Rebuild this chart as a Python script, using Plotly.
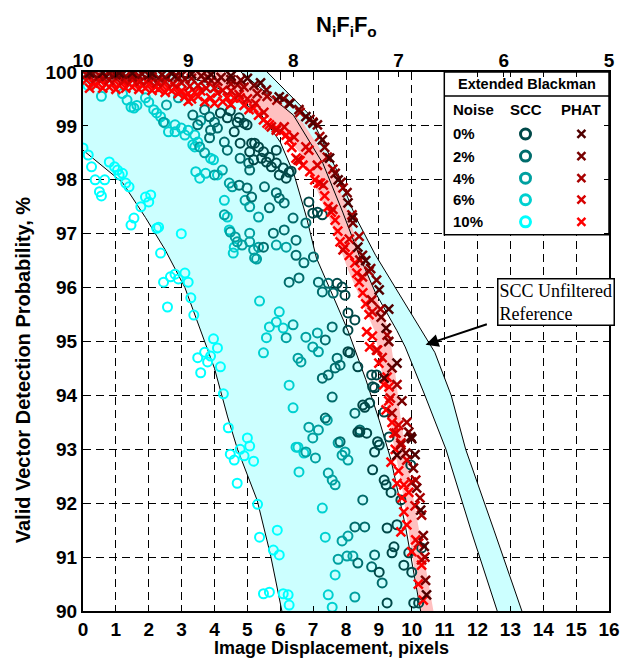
import plotly.graph_objects as go

# ---------------- data ----------------
# band boundary curves (x displacement, probability %)
C1 = [(0, 98.55), (0.5, 98.3), (1.2, 97.95), (1.9, 97.3), (2.5, 96.7), (3.1, 96.0), (3.4, 95.5),
      (4.0, 94.5), (4.4, 93.6), (4.7, 93.0), (5.3, 92.05), (5.7, 91.05), (6.05, 90)]
C2 = [(2.6, 100), (3.8, 99.8), (4.7, 99.5), (5.43, 99.2), (6.0, 98.7), (6.42, 98.1), (6.8, 97.3),
      (7.1, 96.55), (7.6, 95.85), (8.06, 95.2), (8.6, 94.3), (9.01, 93.54), (9.37, 92.8), (9.8, 91.6), (10.27, 90)]
RL = [(4.8, 100), (6.4, 99.2), (7.3, 98.3), (7.9, 97.4), (8.4, 96.6), (8.9, 95.9), (9.55, 95.2), (9.8, 94.9),
      (10.4, 94.0), (11.04, 93.0), (11.8, 91.5), (12.6, 90)]
RR = [(5.6, 100), (6.9, 99.2), (7.7, 98.2), (8.3, 97.3), (8.9, 96.6), (9.5, 96.0), (10.1, 95.4), (10.7, 94.8),
      (11.2, 94.0), (11.64, 93.0), (12.5, 91.5), (13.35, 90)]
PL = [(3.0, 100), (4.6, 99.6), (5.6, 99.15), (6.6, 98.5), (7.2, 97.7), (7.55, 97.2), (8.06, 96.33), (8.5, 95.7),
      (8.87, 95.2), (9.1, 94.4), (9.31, 93.54), (9.7, 92.3), (10.27, 90)]
PR = [(4.2, 100), (5.7, 99.6), (6.7, 99.05), (7.4, 98.4), (7.95, 97.6), (8.3, 96.9), (8.63, 96.33), (9.0, 95.7),
      (9.31, 95.2), (9.5, 94.4), (9.67, 93.54), (10.06, 92.06), (10.66, 90)]

scc10 = [(0.0, 98.59), (0.16, 98.46), (0.26, 98.24), (0.37, 98.0), (0.66, 98.0), (0.5, 97.78), (0.56, 97.7),
         (0.8, 98.33), (0.96, 98.24), (1.05, 98.18), (1.1, 98.09), (1.2, 98.12), (1.3, 97.94), (1.4, 97.87),
         (1.46, 97.16), (1.55, 97.29), (1.76, 97.5), (1.9, 97.68), (2.06, 97.72), (2.0, 97.59), (2.3, 97.12),
         (2.24, 97.1), (2.99, 97.0), (2.36, 96.64), (2.45, 96.1), (2.66, 96.2), (2.8, 96.25), (2.9, 96.16),
         (3.1, 96.27), (3.2, 96.1), (3.28, 95.81), (2.57, 95.64), (3.37, 95.49), (3.97, 95.05), (4.09, 94.88),
         (3.7, 94.8), (3.49, 94.7), (3.79, 94.62), (3.88, 94.73), (3.58, 94.42), (4.18, 94.53), (4.27, 94.03),
         (4.42, 93.4), (5.0, 93.21), (4.78, 93.0), (5.07, 93.06), (4.48, 92.91), (4.6, 92.8), (4.9, 92.88),
         (5.19, 92.78), (4.69, 92.37), (5.31, 91.98), (5.91, 91.5), (5.37, 91.37), (5.79, 91.13), (5.97, 91.04),
         (5.49, 90.32), (5.67, 90.35), (6.09, 90.32), (6.24, 90.3), (6.27, 90.11), (0.05, 99.95), (0.3, 99.85),
         (0.6, 99.9), (0.15, 99.75)]
scc6 = [(0.56, 99.55), (1.2, 99.6), (1.34, 99.48), (1.46, 99.35), (1.55, 99.33), (1.64, 99.38), (1.9, 99.52),
        (2.0, 99.44), (2.15, 99.3), (2.24, 99.24), (2.36, 99.17), (2.5, 99.05), (2.6, 98.89), (2.8, 99.02),
        (2.8, 98.89), (2.99, 98.96), (3.2, 98.92), (3.1, 98.83), (3.4, 98.83), (3.34, 98.65), (3.49, 98.7),
        (3.4, 98.61), (3.43, 98.15), (3.55, 98.03), (3.73, 98.12), (3.88, 98.4), (3.97, 98.37), (4.09, 98.09),
        (4.3, 97.62), (4.39, 97.31), (4.45, 97.07), (4.6, 96.75), (4.57, 96.64), (5.37, 95.75), (5.67, 95.27),
        (5.49, 94.79), (5.58, 95.07), (5.97, 95.55), (5.88, 95.36), (6.09, 95.25), (6.27, 94.19), (6.39, 93.77),
        (6.54, 93.04), (6.72, 92.93), (6.57, 92.58), (7.28, 91.91), (7.37, 91.37), (7.46, 90.3), (7.58, 90.07),
        (7.67, 90.67), (6.48, 93.04)]
scc4 = [(2.54, 99.39), (2.9, 99.52), (2.45, 99.07), (3.58, 99.1), (3.55, 98.61), (3.7, 98.5), (4.24, 98.18),
        (4.0, 98.09), (4.45, 97.94), (4.54, 97.87), (4.93, 97.62), (5.07, 97.5), (5.34, 97.31), (4.3, 97.35),
        (4.48, 97.03), (4.63, 96.94), (5.07, 96.85), (5.34, 96.75), (5.88, 96.79), (6.18, 96.75), (5.22, 96.55),
        (5.28, 96.53), (6.39, 95.31), (6.18, 95.07), (6.78, 95.08), (7.13, 95.16), (6.99, 94.9), (7.16, 94.81),
        (6.54, 94.69), (6.63, 94.62), (6.87, 93.41), (7.16, 93.36), (6.99, 93.21), (6.78, 92.95), (7.07, 92.84),
        (7.76, 93.12), (7.97, 92.95), (7.88, 92.89), (8.06, 92.8), (7.46, 92.56), (7.58, 92.43), (7.67, 92.34),
        (7.88, 91.3), (8.06, 91.39), (7.76, 90.96), (8.03, 91.02), (8.21, 91.02), (8.27, 90.26), (7.43, 93.54),
        (5.07, 97.01), (4.84, 96.79), (4.69, 96.85), (5.19, 96.7)]
scc2 = [(3.34, 99.2), (3.7, 99.3), (3.85, 99.17), (4.0, 99.07), (3.49, 99.02), (3.88, 98.92), (4.09, 98.96),
        (3.85, 98.78), (4.3, 98.7), (4.39, 98.55), (4.78, 98.4), (5.04, 98.31), (5.07, 98.18), (4.75, 97.9),
        (4.99, 97.85), (5.13, 97.68), (5.52, 97.87), (5.88, 97.76), (5.97, 97.66), (6.12, 97.57), (5.67, 97.48),
        (6.39, 97.29), (6.78, 97.2), (6.12, 97.07), (6.48, 96.88), (5.79, 97.01), (5.49, 96.75), (6.27, 96.1),
        (6.57, 96.18), (6.48, 96.6), (6.72, 96.46), (7.01, 96.57), (7.16, 96.1), (7.46, 96.08), (7.28, 95.92),
        (7.61, 95.9), (7.58, 95.27), (7.37, 95.03), (7.73, 94.69), (7.82, 94.56), (7.67, 94.51), (7.46, 94.38),
        (7.28, 94.32), (7.58, 93.97), (7.37, 93.58), (7.82, 93.14), (8.27, 93.67), (8.42, 93.36), (8.51, 92.06),
        (8.27, 91.56), (8.57, 91.56), (8.36, 90.89), (8.78, 90.82), (9.1, 90.52), (8.87, 91.04)]
scc0 = [(4.18, 99.24), (4.39, 99.15), (4.69, 99.07), (4.99, 99.02), (4.6, 98.89), (5.13, 98.68), (5.34, 98.61),
        (5.49, 98.52), (5.67, 98.42), (5.88, 98.55), (5.58, 98.33), (5.88, 98.31), (5.73, 98.24), (6.27, 98.14),
        (6.18, 98.03), (5.97, 98.09), (6.87, 97.59), (6.99, 97.38), (7.13, 97.4), (7.28, 97.35), (4.78, 98.68),
        (5.07, 98.52), (5.43, 98.4), (5.19, 98.37), (4.48, 99.28), (4.75, 99.15), (4.9, 99.05), (5.22, 98.68),
        (6.09, 98.22), (6.33, 98.16), (7.73, 96.08), (7.88, 96.01), (7.97, 95.86), (8.06, 95.53), (8.27, 95.4),
        (8.06, 95.21), (8.06, 94.81), (8.36, 94.53), (8.78, 94.38), (8.81, 94.16), (8.51, 93.82), (8.72, 93.86),
        (8.42, 93.32), (8.63, 93.3), (8.96, 93.14), (8.12, 94.79), (8.93, 94.38), (8.87, 94.14), (9.16, 93.69),
        (8.57, 93.78), (9.01, 93.08), (9.31, 93.23), (8.36, 93.32), (8.87, 92.95), (9.97, 92.71), (8.81, 92.62),
        (9.16, 92.43), (9.22, 92.34), (9.37, 92.2), (9.67, 92.06), (9.25, 91.54), (9.55, 91.6), (9.46, 91.19),
        (10.3, 91.17), (9.4, 91.08), (9.91, 91.08), (9.76, 90.85), (10.0, 90.72), (10.06, 90.15), (10.21, 90.15),
        (9.25, 90.15), (9.01, 90.72)]

phat10 = [(0.1, 99.85), (0.3, 99.8), (0.5, 99.85), (0.7, 99.78), (0.9, 99.8), (1.1, 99.75), (1.2, 99.82),
          (1.4, 99.78), (1.6, 99.8), (1.8, 99.75), (2.0, 99.78), (2.2, 99.72), (2.4, 99.75), (2.6, 99.7),
          (2.8, 99.72), (3.0, 99.65), (3.2, 99.46), (3.2, 99.6), (3.4, 99.62), (3.58, 99.65), (3.88, 99.52),
          (4.09, 99.61), (4.39, 99.52), (4.6, 99.52), (4.78, 99.52), (5.19, 99.33), (5.34, 99.2), (5.49, 99.11),
          (5.67, 99.02), (5.88, 98.96), (6.18, 98.83), (6.27, 98.74), (6.48, 98.4), (6.69, 98.27), (7.16, 97.94),
          (7.22, 97.94), (7.46, 97.5), (7.67, 97.25), (7.82, 96.85), (7.97, 96.75), (8.27, 96.46), (8.33, 96.27),
          (8.51, 95.9), (8.63, 95.18), (8.72, 94.9), (8.96, 94.84), (9.25, 94.34), (9.31, 94.16), (9.22, 93.73),
          (9.46, 93.3), (9.37, 92.76), (9.55, 92.37), (9.76, 92.34), (9.91, 92.2), (9.76, 91.84), (9.67, 91.47),
          (10.12, 91.32), (10.3, 90.85),
          (0.2, 99.7), (0.4, 99.75), (0.6, 99.7), (0.8, 99.72), (1.0, 99.68), (1.3, 99.7), (1.5, 99.72),
          (1.7, 99.68), (1.9, 99.7), (2.1, 99.66), (2.3, 99.68), (2.5, 99.62), (2.7, 99.65), (2.9, 99.6),
          (3.1, 99.55), (3.3, 99.5), (3.5, 99.55), (3.7, 99.45), (4.0, 99.42), (4.25, 99.45), (4.5, 99.4),
          (4.9, 99.38), (5.05, 99.3), (5.6, 99.05), (6.0, 98.9), (6.35, 98.6), (6.6, 98.35), (6.9, 98.15),
          (7.05, 98.0), (7.35, 97.7), (7.55, 97.4), (7.75, 97.05), (8.1, 96.6), (8.4, 96.1), (8.6, 95.7),
          (8.7, 95.5), (8.8, 95.1), (9.0, 94.6), (9.15, 94.2), (9.3, 93.9), (9.4, 93.5), (9.5, 93.0), (9.6, 92.6),
          (9.7, 92.1), (9.85, 91.6), (10.0, 91.1), (10.2, 90.5), (10.35, 90.2)]
phat6 = [(0.2, 99.92), (0.6, 99.9), (1.0, 99.88), (1.5, 99.86), (2.0, 99.85), (2.5, 99.82), (3.0, 99.8),
         (3.5, 99.75), (4.0, 99.7), (4.5, 99.65), (5.0, 99.5), (5.73, 98.98), (5.88, 98.92), (6.12, 98.98),
         (6.42, 98.79), (6.54, 98.37), (6.78, 98.61), (6.87, 98.55), (7.13, 98.27), (7.31, 97.9), (7.91, 96.7),
         (8.93, 94.84), (9.52, 93.3), (9.67, 93.12), (10.0, 92.39), (10.21, 91.26),
         (0.4, 99.88), (0.8, 99.85), (1.25, 99.84), (1.75, 99.83), (2.25, 99.8), (2.75, 99.78), (3.25, 99.74),
         (3.75, 99.7), (4.25, 99.66), (4.75, 99.58), (5.25, 99.42), (5.5, 99.25), (7.6, 97.45), (8.1, 96.9),
         (8.5, 96.2), (8.8, 95.55), (9.1, 94.7), (9.35, 93.95), (9.6, 93.45), (9.85, 92.8), (10.1, 91.95),
         (10.3, 90.95)]
phat4 = [(0.1, 99.95), (0.5, 99.93), (0.9, 99.94), (1.3, 99.92), (1.7, 99.93), (2.1, 99.91), (2.5, 99.9),
         (2.9, 99.9), (3.3, 99.88), (3.7, 99.86), (4.1, 99.83), (4.5, 99.78), (4.9, 99.72), (5.3, 99.6),
         (6.27, 99.42), (6.99, 99.07), (7.43, 98.42), (7.91, 97.85), (8.18, 97.35), (8.42, 96.51),
         (8.78, 95.77), (9.25, 95.12), (9.4, 93.67), (9.67, 93.08), (10.12, 92.43), (10.3, 91.78),
         (0.7, 99.92), (1.5, 99.91), (2.3, 99.89), (3.1, 99.87), (3.9, 99.84), (4.7, 99.76), (5.6, 99.55),
         (5.9, 99.48), (6.6, 99.25), (7.2, 98.8), (7.6, 98.2), (8.4, 96.95), (8.7, 96.3), (9.05, 95.6),
         (9.55, 94.2), (9.85, 93.5), (10.25, 92.1), (10.4, 91.0)]
phat2 = [(0.3, 99.97), (0.8, 99.97), (1.2, 99.96), (1.8, 99.96), (2.4, 99.95), (3.0, 99.94), (3.6, 99.93),
         (4.2, 99.9), (4.8, 99.85), (5.58, 99.67), (6.57, 99.3), (7.13, 99.02), (7.67, 98.12), (8.03, 97.76),
         (8.21, 97.2), (8.93, 96.14), (9.07, 95.45), (9.4, 94.51), (9.91, 93.32), (9.82, 92.93),
         (10.15, 92.28), (10.42, 90.57),
         (1.0, 99.95), (2.0, 99.94), (2.8, 99.92), (3.8, 99.9), (4.5, 99.86), (5.2, 99.75), (6.1, 99.5),
         (6.9, 99.12), (7.35, 98.6), (7.85, 97.95), (8.5, 96.6), (8.75, 96.35), (9.3, 95.0), (9.7, 93.9),
         (10.05, 92.65), (10.35, 91.4)]
phat0 = [(0.6, 99.98), (1.5, 99.98), (2.7, 99.97), (3.9, 99.95), (5.0, 99.88), (5.97, 99.54), (6.78, 99.17),
         (7.28, 98.74), (7.76, 98.0), (8.06, 97.57), (8.36, 96.75), (9.01, 95.96), (9.22, 95.25), (9.16, 94.32),
         (9.97, 93.23), (10.0, 93.2), (9.55, 92.89), (10.27, 91.87), (10.45, 90.3),
         (0.2, 99.98), (1.1, 99.98), (2.1, 99.97), (3.3, 99.96), (4.5, 99.93), (5.4, 99.8), (6.3, 99.42),
         (7.0, 99.05), (7.5, 98.4), (8.2, 97.3), (8.6, 96.5), (9.3, 95.6), (9.55, 94.6), (10.1, 92.9),
         (10.38, 91.2)]

noise_labels = ["0%", "2%", "4%", "6%", "10%"]
scc_colors = ["#004848", "#006C6C", "#00A0A0", "#00D0D0", "#00FFFF"]
phat_colors = ["#500000", "#780000", "#A80000", "#D80000", "#FF0000"]
top_ticks = [10, 9, 8, 7, 6, 5]

CYAN_FILL = "#CCFFFF"
PINK_FILL = "#FFC0C0"
FONT = "Liberation Sans"


def xs(p):
    return [a for a, _ in p]


def ys(p):
    return [b for _, b in p]


fig = go.Figure()


def poly(points, color):
    fig.add_trace(go.Scatter(x=xs(points), y=ys(points), mode="lines", fill="toself", fillcolor=color,
                             line=dict(width=0), hoverinfo="skip", showlegend=False))


def line(points):
    fig.add_trace(go.Scatter(x=xs(points), y=ys(points), mode="lines", line=dict(color="black", width=1),
                             hoverinfo="skip", showlegend=False))


# bands
poly(RL + RR[::-1], CYAN_FILL)
poly(PL + PR[::-1], PINK_FILL)
poly([(0, 100)] + C2 + C1[::-1], CYAN_FILL)
for c in (C1, C2, RL, RR):
    line(c)

# SCC circles
for pts, col in zip([scc10, scc6, scc4, scc2, scc0], scc_colors[::-1]):
    fig.add_trace(go.Scatter(x=xs(pts), y=ys(pts), mode="markers", showlegend=False,
                             marker=dict(symbol="circle-open", size=9, color=col, line=dict(width=2, color=col))))
# PHAT crosses
for pts, col in zip([phat10, phat6, phat4, phat2, phat0], phat_colors[::-1]):
    fig.add_trace(go.Scatter(x=xs(pts), y=ys(pts), mode="markers", showlegend=False,
                             marker=dict(symbol="x-thin", size=9, color=col, line=dict(width=2.5, color=col))))

# legend table
bx0, bx1, by0, by1 = 10.99, 16.0, 96.98, 100.0
fig.add_trace(go.Scatter(x=[bx0, bx1, bx1, bx0, bx0], y=[by1, by1, by0, by0, by1], mode="lines", fill="toself",
                         fillcolor="white", line=dict(color="black", width=1.5), hoverinfo="skip", showlegend=False))
fig.add_trace(go.Scatter(x=[bx0, bx1], y=[99.555, 99.555], mode="lines", line=dict(color="black", width=1.5),
                         hoverinfo="skip", showlegend=False))
row_y = [98.85, 98.44, 98.03, 97.63, 97.22]
fig.add_trace(go.Scatter(x=[13.46] * 5, y=row_y, mode="markers", showlegend=False,
                         marker=dict(symbol="circle-open", size=10, color=scc_colors,
                                     line=dict(width=3, color=scc_colors))))
fig.add_trace(go.Scatter(x=[15.16] * 5, y=row_y, mode="markers", showlegend=False,
                         marker=dict(symbol="x-thin", size=8, color=phat_colors,
                                     line=dict(width=2.5, color=phat_colors))))
# invisible trace for top axis
fig.add_trace(go.Scatter(x=top_ticks, y=[95] * 6, xaxis="x2", mode="markers", marker=dict(opacity=0),
                         hoverinfo="skip", showlegend=False))

bold = dict(family=FONT, size=14.5, color="black", weight="bold")
ann = [
    dict(x=13.5, y=99.78, text="Extended Blackman", showarrow=False, font=bold),
    dict(x=11.19, y=99.31, text="Noise", showarrow=False, xanchor="left", font=dict(bold, size=15)),
    dict(x=13.46, y=99.31, text="SCC", showarrow=False, font=dict(bold, size=15)),
    dict(x=15.16, y=99.31, text="PHAT", showarrow=False, font=dict(bold, size=15)),
]
for lab, yy in zip(noise_labels, row_y):
    ann.append(dict(x=11.19, y=yy, text=lab, showarrow=False, xanchor="left", font=dict(bold, size=15)))
ann.append(dict(x=10.42, y=94.94, ax=12.33, ay=95.33, axref="x", ayref="y", text="", showarrow=True,
                arrowhead=2, arrowsize=1.3, arrowwidth=2, arrowcolor="black"))
ann.append(dict(x=12.6, y=95.73, text="SCC Unfiltered<br>Reference", showarrow=False, xanchor="left",
                align="left", bordercolor="black", borderwidth=1.5, bgcolor="white", borderpad=1,
                font=dict(family="Liberation Serif", size=18, color="black")))
for a in ann:
    a["xref"] = "x"
    a["yref"] = "y"

PW, PH = 537.0, 539.0
ann.append(dict(xref="paper", yref="paper", x=(337 - 83) / PW, y=-(648 - 611) / PH, xanchor="center",
                yanchor="middle", text="Image Displacement, pixels", showarrow=False,
                font=dict(family=FONT, size=18, color="black", weight="bold")))
ann.append(dict(xref="paper", yref="paper", x=(22 - 83) / PW, y=(611 - 370) / PH, xanchor="center",
                yanchor="middle", textangle=-90, text="Valid Vector Detection Probability, %", showarrow=False,
                font=dict(family=FONT, size=20, color="black", weight="bold")))
ann.append(dict(xref="paper", yref="paper", x=0.5, y=1 + (72 - 26) / PH, xanchor="center", yanchor="middle",
                text="N<sub>i</sub>F<sub>i</sub>F<sub>o</sub>", showarrow=False,
                font=dict(family=FONT, size=22, color="black", weight="bold")))

tickfont = dict(family=FONT, size=19, color="black", weight="bold")
fig.update_layout(
    width=631, height=660, margin=dict(l=83, r=11, t=72, b=49),
    paper_bgcolor="white", plot_bgcolor="white", showlegend=False,
    annotations=ann,
    xaxis=dict(range=[0, 16], tick0=0, dtick=1, showgrid=True, gridcolor="black", griddash="8px,5px", gridwidth=1,
               showline=True, linecolor="black", linewidth=2, mirror="ticks", ticks="inside", ticklen=5,
               tickcolor="black", tickfont=tickfont, zeroline=False),
    xaxis2=dict(range=[10, 5], overlaying="x", side="top", tickvals=top_ticks, ticks="inside", ticklen=5,
                tickcolor="black", tickfont=tickfont, showgrid=False, showline=False, zeroline=False),
    yaxis=dict(range=[90, 100], tick0=90, dtick=1, showgrid=True, gridcolor="black", griddash="8px,5px", gridwidth=1,
               showline=True, linecolor="black", linewidth=2, mirror="ticks", ticks="inside", ticklen=5,
               tickcolor="black", tickfont=tickfont, zeroline=False),
)
fig.write_html("out.html")
